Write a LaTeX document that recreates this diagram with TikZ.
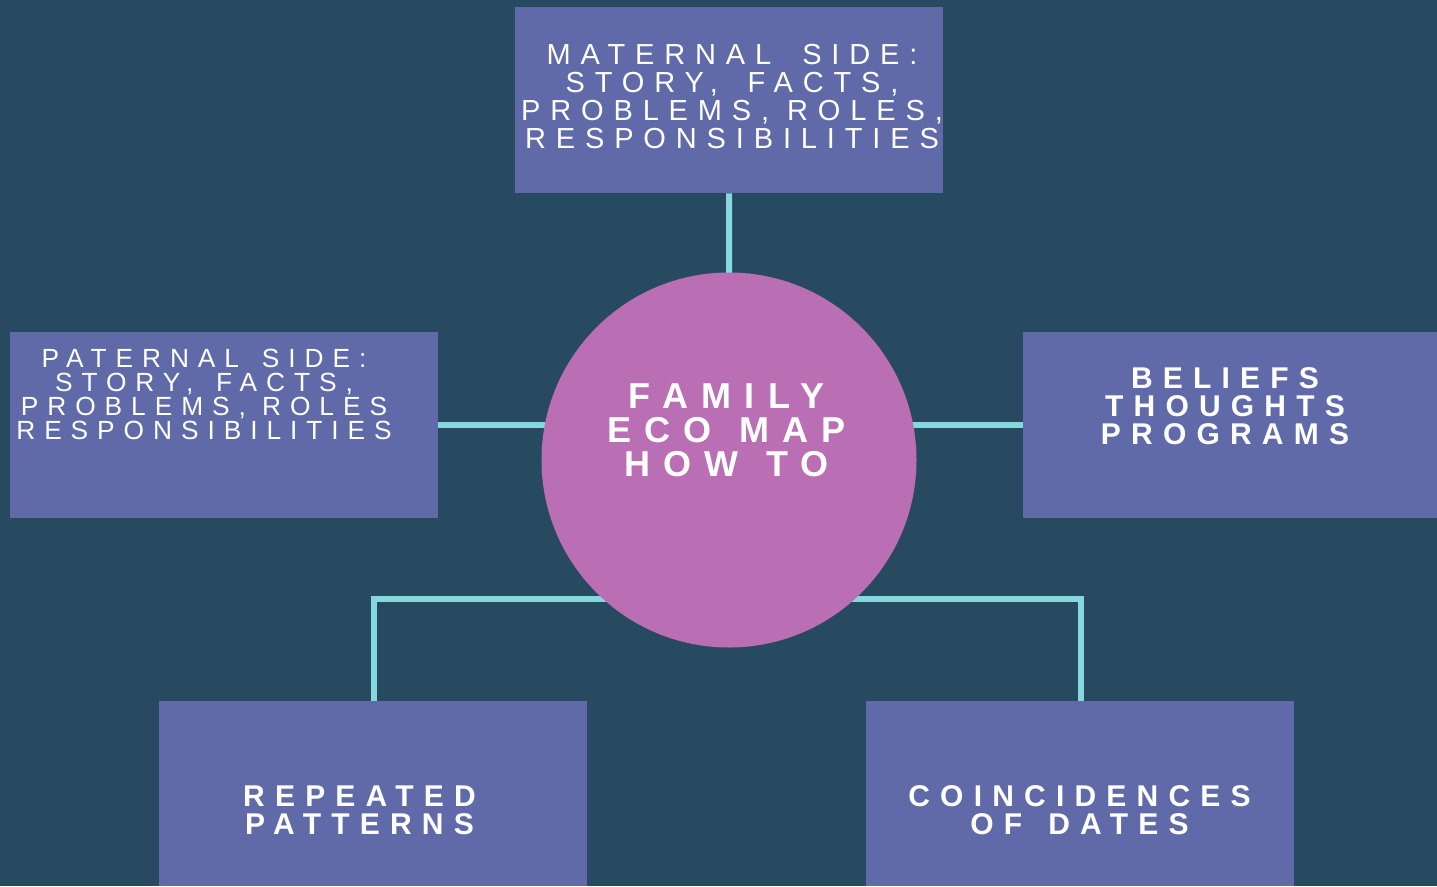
\documentclass[tikz,border=0pt]{standalone}
\usepackage{fontspec}
\setmainfont{Liberation Sans}
\newfontfamily\spaced[LetterSpace=34]{Liberation Sans}
\newfontfamily\spacedwide[LetterSpace=37]{Liberation Sans}
\usetikzlibrary{positioning}
\definecolor{bgc}{HTML}{274A60}
\definecolor{boxc}{HTML}{606AA8}
\definecolor{circc}{HTML}{BA6FB4}
\definecolor{linec}{HTML}{86D8DC}
\newcommand\wgap[1]{ \hspace{#1em}}
\pgfdeclarelayer{bgl}
\pgfdeclarelayer{conn}
\pgfsetlayers{bgl,conn,main}
\tikzset{
  panel/.style={fill=boxc, draw=none, rectangle, inner sep=0pt, anchor=north west},
  hub/.style={fill=circc, draw=none, circle, inner sep=0pt, minimum size=375pt},
  regtext/.style={text=white, align=center, inner sep=0pt, font=\spaced\fontsize{29}{28}\selectfont},
  smalltext/.style={text=white, align=center, inner sep=0pt, font=\spaced\fontsize{26.3}{24}\selectfont},
  boldtext/.style={text=white, align=center, inner sep=0pt, font=\spaced\bfseries\fontsize{30}{28}\selectfont},
  hubtext/.style={text=white, align=center, inner sep=0pt, font=\spacedwide\bfseries\fontsize{36}{34}\selectfont},
  link/.style={draw=linec, line width=6pt, line join=miter}
}
\begin{document}
\begin{tikzpicture}[x=1pt, y=-1pt]
\begin{pgfonlayer}{bgl}
\fill[bgc] (0,0) rectangle (1437,886);
\end{pgfonlayer}
\useasboundingbox (0,0) rectangle (1437,886);

% panels
\node[panel, minimum width=428pt, minimum height=186pt] (top) at (515,7) {};
\node[panel, minimum width=428pt, minimum height=186pt] (lp) at (10,332) {};
\node[panel, minimum width=414pt, minimum height=186pt] (rb) at (1023,332) {};
\node[panel, minimum width=428pt, minimum height=185pt] (bl) at (159,701) {};
\node[panel, minimum width=428pt, minimum height=185pt] (br) at (866,701) {};
\node[hub] (circ) at (729,460) {};

% texts
\node[regtext] (toptext) at (732,97) {MATERNAL\wgap{0.45}SIDE:\\STORY,\wgap{0.4}FACTS,\\PROBLEMS, ROLES,\\RESPONSIBILITIES};
\node[smalltext] (lptext) at (204,394) {PATERNAL\wgap{0.25}SIDE:\\STORY,\wgap{0.25}FACTS,\\PROBLEMS, ROLES\\RESPONSIBILITIES};
\node[boldtext] (rbtext) at (1225,406) {BELIEFS\\THOUGHTS\\PROGRAMS};
\node[hubtext] (circtext) at (726.5,430) {FAMILY\\ECO\wgap{0.12}MAP\\HOW\wgap{0.12}TO};
\node[boldtext] (bltext) at (359.5,810) {REPEATED\\PATTERNS};
\node[boldtext] (brtext) at (1079.5,810) {COINCIDENCES\\OF\wgap{0.25}DATES};

% connectors
\coordinate (jl) at (374,599);
\coordinate (jr) at (1081,599);
\begin{pgfonlayer}{conn}
\draw[link] (top.south) -- (circ.center);
\draw[link] (lp.east) -- (lp.east -| circ.center);
\draw[link] (rb.west) -- (rb.west -| circ.center);
\draw[link] (bl.north -| jl) -- (jl) -- (circ.center |- jl);
\draw[link] (br.north -| jr) -- (jr) -- (circ.center |- jr);
\end{pgfonlayer}
\end{tikzpicture}
\end{document}
